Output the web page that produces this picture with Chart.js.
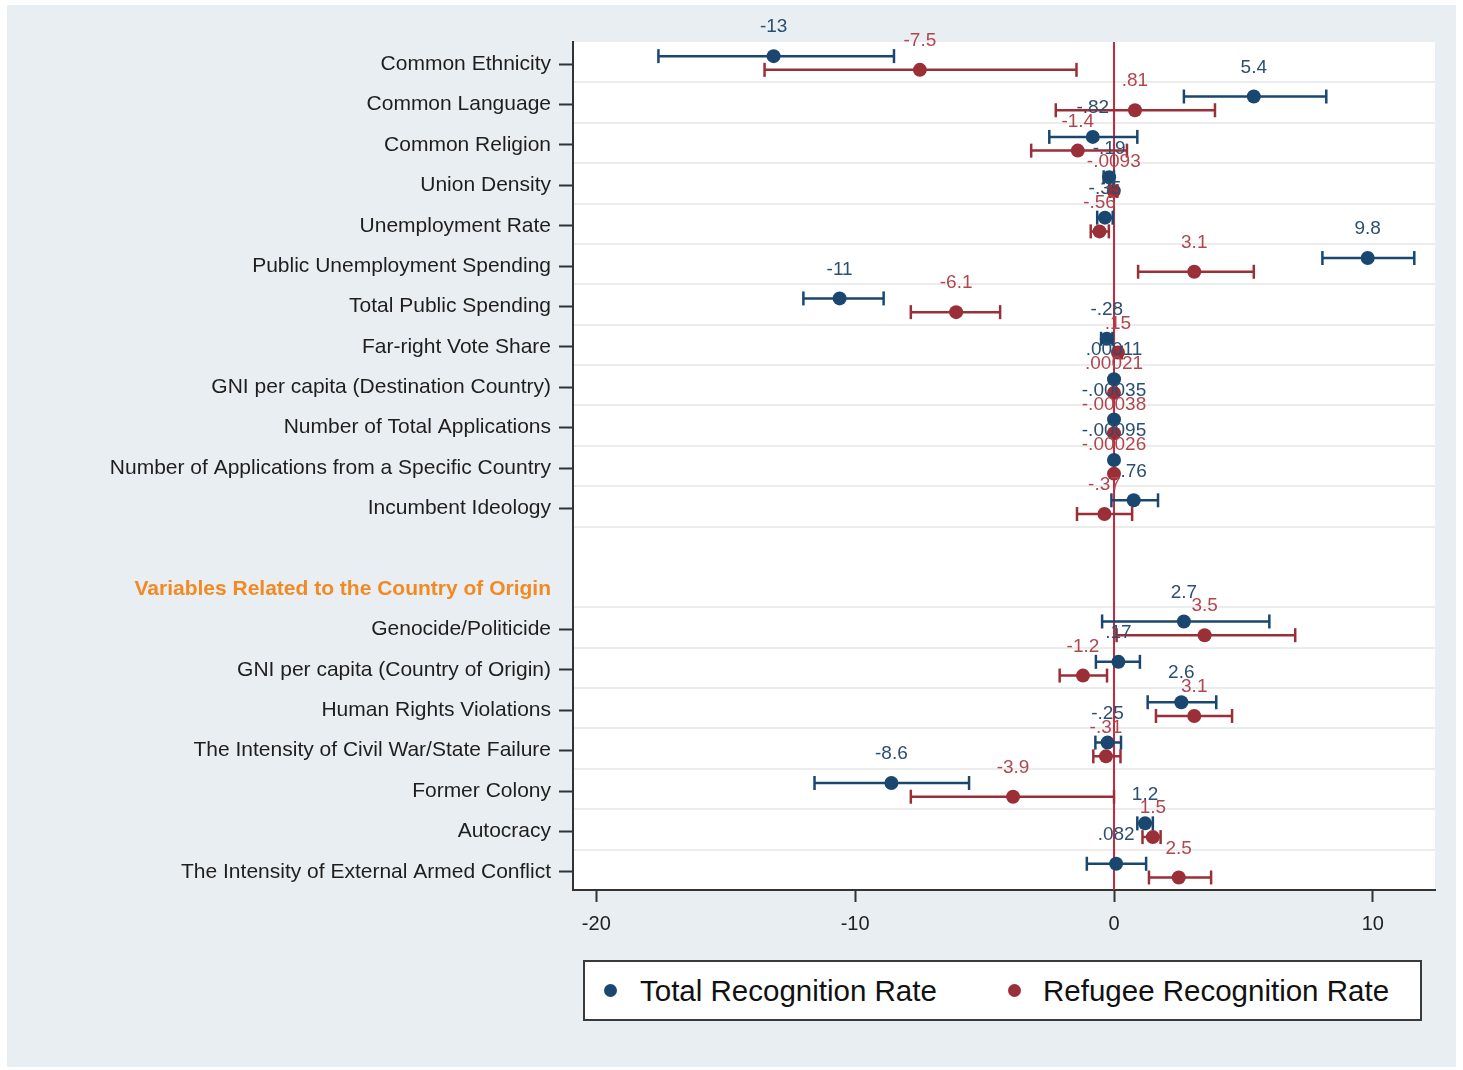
<!DOCTYPE html>
<html>
<head>
<meta charset="utf-8">
<script src="https://cdn.jsdelivr.net/npm/chart.js@4.4.0/dist/chart.umd.min.js"></script>
<style>
  html, body { margin: 0; padding: 0; background: #ffffff; }
  #frame { position: absolute; left: 7px; top: 5px; width: 1449px; height: 1062px; background: #e8eef1; }
  #wrap { position: absolute; left: 0; top: 0; width: 1463px; height: 1070px; }
  #legend {
    position: absolute; left: 583px; top: 960px; width: 835px; height: 57px;
    background: #ffffff; border: 2px solid #3a3a3a;
    font-family: "Liberation Sans", Arial, sans-serif; font-size: 29.5px; color: #111;
  }
  .item { position: absolute; top: 0; height: 57px; line-height: 57px; white-space: nowrap; }
  .dot { position: absolute; top: 22px; width: 13px; height: 13px; border-radius: 50%; }
</style>
</head>
<body>
<div id="frame"></div>
<div id="wrap"><canvas id="coefChart" width="1463" height="1070"></canvas></div>
<div id="legend">
  <div class="dot" style="left:19px;background:#1a476f"></div>
  <div class="item" style="left:55px">Total Recognition Rate</div>
  <div class="dot" style="left:423px;background:#9b2f37"></div>
  <div class="item" style="left:458px">Refugee Recognition Rate</div>
</div>
<script>
// coefficient plot data (rows top to bottom)
const rowLabels = [
  'Common Ethnicity', 'Common Language', 'Common Religion', 'Union Density',
  'Unemployment Rate', 'Public Unemployment Spending', 'Total Public Spending',
  'Far-right Vote Share', 'GNI per capita (Destination Country)',
  'Number of Total Applications', 'Number of Applications from a Specific Country',
  'Incumbent Ideology', '', 'Variables Related to the Country of Origin',
  'Genocide/Politicide', 'GNI per capita (Country of Origin)', 'Human Rights Violations',
  'The Intensity of Civil War/State Failure', 'Former Colony', 'Autocracy',
  'The Intensity of External Armed Conflict'
];

const totalEst = [-13.15, 5.4, -0.82, -0.19, -0.35, 9.8, -10.6, -0.28, 0.00011, -0.00035, -0.00095, 0.76,
  null, null, 2.7, 0.17, 2.6, -0.25, -8.6, 1.2, 0.082];
const totalLo = [-17.6, 2.7, -2.5, -0.4, -0.65, 8.05, -12.0, -0.5, null, null, null, -0.1,
  null, null, -0.46, -0.7, 1.3, -0.72, -11.57, 0.9, -1.05];
const totalHi = [-8.5, 8.2, 0.9, 0.0, -0.05, 11.6, -8.9, -0.06, null, null, null, 1.7,
  null, null, 6.0, 1.0, 3.95, 0.27, -5.6, 1.5, 1.24];

const refugeeEst = [-7.5, 0.81, -1.4, -0.0093, -0.56, 3.1, -6.1, 0.15, 0.00021, -0.00038, -0.00026, -0.37,
  null, null, 3.5, -1.2, 3.1, -0.31, -3.9, 1.5, 2.5];
const refugeeLo = [-13.5, -2.25, -3.2, -0.15, -0.9, 0.93, -7.85, 0.0, null, null, null, -1.43,
  null, null, 0.1, -2.1, 1.62, -0.8, -7.85, 1.1, 1.35];
const refugeeHi = [-1.45, 3.9, 0.5, 0.13, -0.2, 5.4, -4.4, 0.3, null, null, null, 0.7,
  null, null, 7.0, -0.27, 4.56, 0.25, 0.0, 1.8, 3.75];

const xTicks = [-20, -10, 0, 10];

const BLUE = '#1a476f';
const RED = '#9b2f37';
const BLUE_TXT = '#2b4f70';
const RED_TXT = '#b0474f';
const FONT = '"Liberation Sans", Arial, sans-serif';

// vertical offset of each series inside a row
const OFF_TOTAL = -0.2;
const OFF_REF = 0.14;

function fmt(v) {
  const s = String(Number(v.toPrecision(2)));
  return s.replace(/^(-?)0\./, '$1.');
}

function pointData(est, off) {
  const d = [];
  est.forEach((v, i) => { if (v !== null) d.push({ x: v, y: i + off }); });
  return d;
}

function ciData(lo, hi, off) {
  const d = [];
  lo.forEach((v, i) => {
    if (v === null) return;
    d.push({ x: v, y: i + off }, { x: hi[i], y: i + off }, { x: NaN, y: NaN });
  });
  return d;
}

const rowTicks = rowLabels.map((_, i) => i);
const gridTicks = rowLabels.slice(0, -1).map((_, i) => i + 0.45).filter((_, i) => i !== 12);

// white plot area
const plotBg = {
  id: 'plotBg',
  beforeDraw(chart) {
    const a = chart.chartArea, ctx = chart.ctx;
    ctx.save();
    ctx.fillStyle = '#ffffff';
    ctx.fillRect(a.left, a.top, a.right - a.left, a.bottom - a.top);
    ctx.restore();
  }
};

// number above each marker
const valueLabels = {
  id: 'valueLabels',
  afterDatasetsDraw(chart) {
    const ctx = chart.ctx;
    ctx.save();
    ctx.font = '19px ' + FONT;
    ctx.textAlign = 'center';
    ctx.textBaseline = 'middle';
    chart.data.datasets.forEach((ds, idx) => {
      if (!ds.valueColor) return;
      const meta = chart.getDatasetMeta(idx);
      ctx.fillStyle = ds.valueColor;
      meta.data.forEach((el, k) => {
        ctx.fillText(fmt(ds.data[k].x), el.x, el.y - 29);
      });
    });
    ctx.restore();
  }
};

function capStyle(color) {
  return {
    showLine: true,
    borderColor: color,
    borderWidth: 2.5,
    pointStyle: 'line',
    pointRotation: 90,
    pointRadius: 7,
    pointBorderColor: color,
    pointBorderWidth: 2.5,
    spanGaps: false,
    order: 2
  };
}

new Chart(document.getElementById('coefChart'), {
  type: 'scatter',
  data: {
    datasets: [
      {
        label: 'Total Recognition Rate',
        data: pointData(totalEst, OFF_TOTAL),
        backgroundColor: BLUE,
        pointRadius: 7,
        pointBorderWidth: 0,
        valueColor: BLUE_TXT,
        order: 1
      },
      {
        label: 'Refugee Recognition Rate',
        data: pointData(refugeeEst, OFF_REF),
        backgroundColor: RED,
        pointRadius: 7,
        pointBorderWidth: 0,
        valueColor: RED_TXT,
        order: 0
      },
      Object.assign({ label: 'total ci', data: ciData(totalLo, totalHi, OFF_TOTAL) }, capStyle(BLUE)),
      Object.assign({ label: 'refugee ci', data: ciData(refugeeLo, refugeeHi, OFF_REF) }, capStyle(RED)),
      {
        label: 'zero',
        data: [{ x: 0, y: -0.55 }, { x: 0, y: 20.45 }],
        showLine: true,
        borderColor: '#c8283f',
        borderWidth: 2,
        pointRadius: 0,
        order: 3
      }
    ]
  },
  options: {
    responsive: false,
    animation: false,
    devicePixelRatio: 1,
    layout: { padding: { left: 0, top: 42, right: 28, bottom: 120 } },
    plugins: {
      legend: { display: false },
      tooltip: { enabled: false }
    },
    scales: {
      x: {
        type: 'linear',
        min: -20.9,
        max: 12.4,
        afterBuildTicks: function(axis) {
          axis.ticks = xTicks.map(v => ({ value: v }));
        },
        afterFit: function(axis) { axis.height = 60; },
        border: { display: true, color: '#333333', width: 2 },
        grid: { drawOnChartArea: false, drawTicks: true, tickLength: 12, tickColor: '#333333', tickWidth: 2 },
        ticks: { color: '#222222', font: { family: FONT, size: 20 }, padding: 10, maxRotation: 0 }
      },
      y: {
        type: 'linear',
        reverse: true,
        min: -0.55,
        max: 20.45,
        afterBuildTicks: function(axis) {
          axis.ticks = rowTicks.map(v => ({ value: v }));
        },
        afterFit: function(axis) { axis.width = 573; },
        border: { display: true, color: '#333333', width: 2 },
        grid: {
          drawOnChartArea: false,
          drawTicks: true,
          tickLength: 14,
          tickWidth: 2,
          tickColor: ctx => (ctx.tick && totalEst[ctx.tick.value] === null) ? 'rgba(0,0,0,0)' : '#333333'
        },
        ticks: {
          autoSkip: false,
          padding: 8,
          callback: v => rowLabels[v],
          color: ctx => (ctx.tick && ctx.tick.value === 13) ? '#f28a24' : '#1e1e1e',
          font: ctx => (ctx.tick && ctx.tick.value === 13)
            ? { family: FONT, size: 21, weight: 'bold' }
            : { family: FONT, size: 21 }
        }
      },
      yGrid: {
        type: 'linear',
        position: 'right',
        reverse: true,
        min: -0.55,
        max: 20.45,
        afterBuildTicks: function(axis) {
          axis.ticks = gridTicks.map(v => ({ value: v }));
        },
        afterFit: function(axis) { axis.width = 0; },
        border: { display: false },
        grid: { drawOnChartArea: true, drawTicks: false, color: '#ececec', lineWidth: 2 },
        ticks: { display: false }
      }
    }
  },
  plugins: [plotBg, valueLabels]
});
</script>
</body>
</html>
